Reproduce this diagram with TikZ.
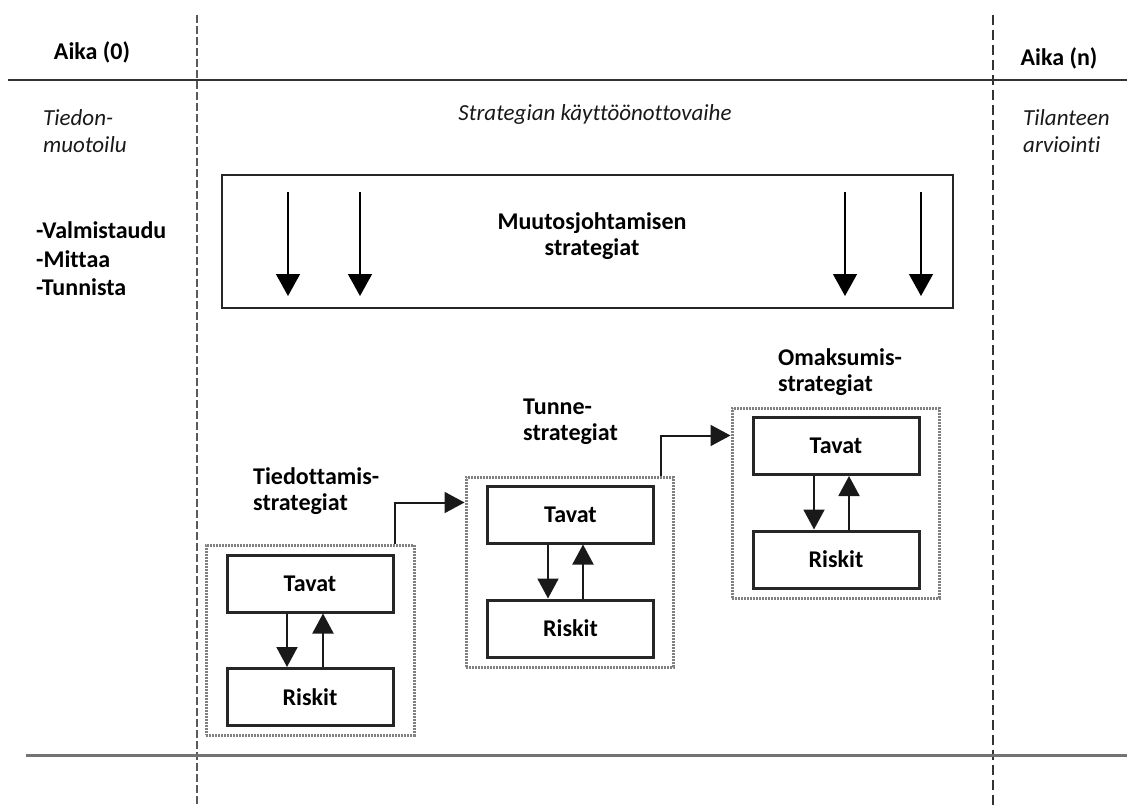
\documentclass[tikz,border=0pt]{standalone}
\usepackage{fontspec}
\setmainfont{Carlito}[Ligatures=NoCommon]
\usetikzlibrary{arrows.meta}

\tikzset{
  box/.style={draw=black!85, line width=3pt, fill=white, minimum width=166pt,
    minimum height=57pt, inner sep=0pt, font=\bfseries\fontsize{24}{26}\selectfont},
  group/.style={draw=black!50, dash pattern=on 2pt off 1pt, line width=3pt, inner sep=0pt},
  lbl/.style={font=\bfseries\fontsize{24}{26}\selectfont, align=left, anchor=west, inner sep=0pt},
  itl/.style={font=\itshape\fontsize{23}{27}\selectfont, align=left, anchor=west, inner sep=0pt, text=black!90},
  head/.style={-{Triangle[length=20pt,width=21pt]}, line width=2pt, draw=black!90},
  bighead/.style={-{Triangle[length=22pt,width=24pt]}, line width=1.4pt},
  timeline/.style={dashed, dash pattern=on 8pt off 3pt}
}

\begin{document}
\begin{tikzpicture}[x=1pt,y=-1pt]
\useasboundingbox (0,0) rectangle (1127,805);
% time axis
\draw [timeline, draw=black!65, line width=2pt] (197,15) coordinate (t0top) -- (197,805) coordinate (t0bot);
\draw [timeline, draw=black!80, line width=1.6pt, dash pattern=on 10pt off 5pt] (993,15) coordinate (tntop) -- (993,805) coordinate (tnbot);
\draw [draw=black!80, line width=2pt] (8,80) coordinate (lineL) -- (1127,80) coordinate (lineR);
\draw [draw=black!55, line width=3pt] (26,755) coordinate (baseL) -- (1127,755) coordinate (baseR);
% headings
\node [lbl, anchor=center] (aika0) at (92,52) {Aika (0)};
\node [lbl, anchor=center] (aikan) at (1059,58) {Aika (n)};
\node [itl] (muotoilu) at (43,131) {Tiedon-\\muotoilu};
\node [itl, anchor=center] (vaihe) at (595,114) {Strategian käyttöönottovaihe};
\node [itl] (arviointi) at (1023,131) {Tilanteen\\arviointi};
\node [lbl, align=left, font=\bfseries\fontsize{24}{28.5}\selectfont] (vaiheet) at (36,259) {-Valmistaudu\\-Mittaa\\-Tunnista};
% change management
\node [draw=black!85, line width=2.5pt, minimum width=731pt, minimum height=133pt, inner sep=0pt] (muutos) at (587.5,241.5) {};
\node [lbl, align=center, anchor=center] (muutostxt) at (592,236) {Muutosjohtamisen\\strategiat};
\foreach \i/\x in {1/288,2/360,3/845,4/921} {
  \coordinate (ma\i) at (\x,192);
  \coordinate (mb\i) at (\x,296);
  \draw [bighead] (ma\i) -- (mb\i);
}
% groups
\node [group, minimum width=208pt, minimum height=190pt] (g1) at (310,640) {};
\node [box] (tavat1) at (310,583.5) {Tavat};
\node [box] (riskit1) at (310,697) {Riskit};
\draw [head] ([xshift=-23pt]tavat1.south) -- ([xshift=-23pt]riskit1.north);
\draw [head] ([xshift=13pt]riskit1.north) -- ([xshift=13pt]tavat1.south);
\node [lbl] (lbl1) at (253,491) {Tiedottamis-\\strategiat};

\node [group, minimum width=207pt, minimum height=190pt] (g2) at (569.5,572) {};
\node [box] (tavat2) at (570.5,514.5) {Tavat};
\node [box] (riskit2) at (570.5,628.5) {Riskit};
\draw [head] ([xshift=-22.5pt]tavat2.south) -- ([xshift=-22.5pt]riskit2.north);
\draw [head] ([xshift=12.5pt]riskit2.north) -- ([xshift=12.5pt]tavat2.south);
\node [lbl] (lbl2) at (523,422) {Tunne-\\strategiat};

\node [group, minimum width=207pt, minimum height=190pt] (g3) at (835.5,503) {};
\node [box] (tavat3) at (836,446) {Tavat};
\node [box] (riskit3) at (836,559.5) {Riskit};
\draw [head] ([xshift=-22pt]tavat3.south) -- ([xshift=-22pt]riskit3.north);
\draw [head] ([xshift=13pt]riskit3.north) -- ([xshift=13pt]tavat3.south);
\node [lbl] (lbl3) at (778,372) {Omaksumis-\\strategiat};
% transitions
\draw [head] ([xshift=-21pt]g1.north east) |- ([yshift=-27pt]g2.north west);
\draw [head] ([xshift=-14pt]g2.north east) |- ([yshift=-29pt]g3.north west);
\end{tikzpicture}
\end{document}
